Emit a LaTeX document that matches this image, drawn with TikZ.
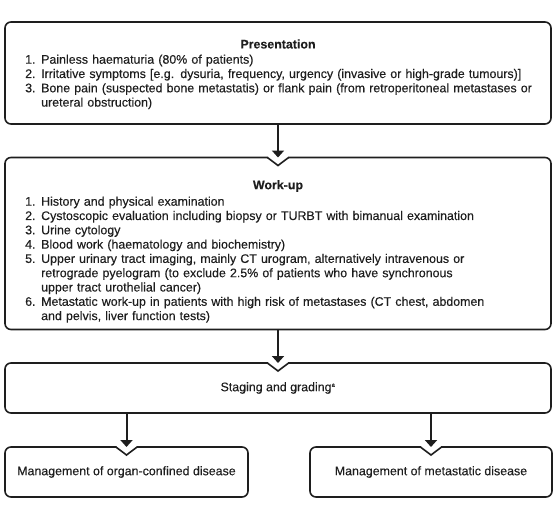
\documentclass[tikz,border=0pt]{standalone}
\usepackage{fontspec}
\setmainfont[FakeBold=0.25]{Liberation Sans}
\usetikzlibrary{arrows.meta,calc}
\definecolor{ink}{HTML}{1E1E1E}
\newcommand\itm[2]{\hangindent=16pt\hangafter=1\noindent\makebox[16pt][l]{#1}#2\par}
\newcommand\nbox[1]{%
  \draw[boxline,rounded corners=6pt] ([xshift=10pt]#1.north) -- (#1.north east) -- (#1.south east) -- (#1.south west) -- (#1.north west) -- ([xshift=-10pt]#1.north);
  \draw[boxline,line join=miter] ([xshift=-10.6pt]#1.north) -- ([yshift=-8pt]#1.north) -- ([xshift=10.6pt]#1.north);}
\begin{document}
\begin{tikzpicture}[x=1pt,y=-1pt,
  boxline/.style={draw=ink,line width=1.6pt},
  frame/.style={inner sep=0pt,outer sep=0pt,draw=none},
  body/.style={inner sep=0pt,anchor=north west,text width=#1,font=\fontsize{12.4}{14.3}\selectfont,text=ink,execute at begin node={\raggedright\hyphenpenalty=10000\relax}},
  lbl/.style={inner sep=0pt,font=\fontsize{12.4}{14.3}\selectfont,text=ink},
  arr/.style={draw=ink,line width=2pt,-{Triangle[width=12pt,length=7pt]}}]
\useasboundingbox (0,0) rectangle (557,504);
% boxes
\node[frame,minimum width=546pt,minimum height=102pt,anchor=north west] (P) at (5,22) {};
\node[frame,minimum width=546pt,minimum height=172pt,anchor=north west] (W) at (5,157.5) {};
\node[frame,minimum width=546pt,minimum height=50pt,anchor=north west] (S) at (5,363) {};
\node[frame,minimum width=243pt,minimum height=50pt,anchor=north west] (L) at (5,447) {};
\node[frame,minimum width=242pt,minimum height=50pt,anchor=north west] (R) at (310,447) {};
\nbox{W}\nbox{S}\nbox{L}\nbox{R}
\draw[boxline,rounded corners=6pt] (P.north west) rectangle (P.south east);
% texts
\node[lbl,font=\fontsize{12.4}{14.3}\selectfont\bfseries] (Pt) at (278,44) {Presentation};
\node[body=525pt] (Pb) at (25,54.5) {%
\itm{1.}{Painless haematuria (80\% of patients)}
\itm{2.}{Irritative symptoms [e.g. dysuria, frequency, urgency (invasive or high-grade tumours)]}
\itm{3.}{Bone pain (suspected bone metastatis) or flank pain (from retroperitoneal metastases or\newline ureteral obstruction)}};
\node[lbl,font=\fontsize{12.4}{14.3}\selectfont\bfseries] (Wt) at (278,186) {Work-up};
\node[body=525pt] (Wb) at (25,196.5) {%
\itm{1.}{History and physical examination}
\itm{2.}{Cystoscopic evaluation including biopsy or TURBT with bimanual examination}
\itm{3.}{Urine cytology}
\itm{4.}{Blood work (haematology and biochemistry)}
\itm{5.}{Upper urinary tract imaging, mainly CT urogram, alternatively intravenous or\newline retrograde pyelogram (to exclude 2.5\% of patients who have synchronous\newline upper tract urothelial cancer)}
\itm{6.}{Metastatic work-up in patients with high risk of metastases (CT chest, abdomen\newline and pelvis, liver function tests)}};
\node[lbl] (St) at (S.center) {Staging and grading\textsuperscript{\fontsize{6}{6}\selectfont a}};
\node[lbl] (Lt) at (L.center) {Management of organ-confined disease};
\node[lbl] (Rt) at (R.center) {Management of metastatic disease};
% arrows
\draw[arr] (P.south) -- (W.north);
\draw[arr] (W.south) -- (S.north);
\draw[arr] (S.south -| L.north) -- (L.north);
\draw[arr] (S.south -| R.north) -- (R.north);
\end{tikzpicture}
\end{document}
